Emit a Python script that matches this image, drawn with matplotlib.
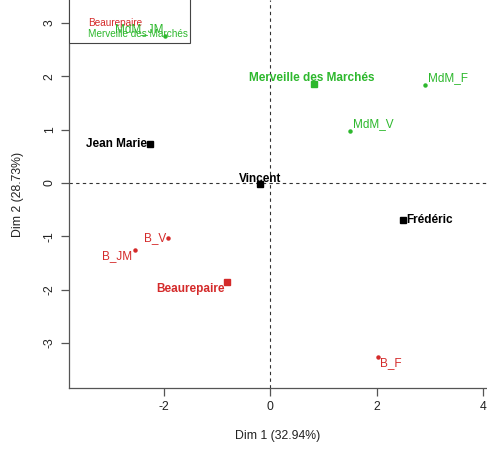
import matplotlib
matplotlib.use('Agg')
from matplotlib import pyplot as plt
from matplotlib.lines import Line2D
from matplotlib.patches import Rectangle

plt.rcParams['font.family'] = ['Liberation Sans', 'DejaVu Sans']
plt.rcParams['axes.unicode_minus'] = False

# product means (coloured squares)
products = ['Beaurepaire', 'Merveille des Marchés']
prod_x = [-0.81, 0.83]
prod_y = [-1.86, 1.86]

# panelists (black squares)
panelists = ['Jean Marie', 'Vincent', 'Frédéric']
pan_x = [-2.25, -0.19, 2.50]
pan_y = [0.73, -0.02, -0.69]

# partial points (product seen by each panelist)
partial = ['B_JM', 'B_V', 'B_F', 'MdM_JM', 'MdM_V', 'MdM_F']
partial_group = [0, 0, 0, 1, 1, 1]
part_x = [-2.54, -1.92, 2.03, -1.97, 1.50, 2.91]
part_y = [-1.26, -1.03, -3.26, 2.76, 0.98, 1.84]

colors = ['#D42A2A', '#2DB82D']

# label placement (pixel offsets, alignment)
prod_lab = [((-2, -7), 'right'), ((-2, 6), 'center')]
pan_lab = [((-3, 0), 'right'), ((0, 5), 'center'), ((3, 0), 'left')]
part_lab = [((-3, -6), 'right'), ((-2, 0), 'right'), ((2, -6), 'left'),
            ((-2, 7), 'right'), ((3, 7), 'left'), ((3, 7), 'left')]

fig = plt.figure(figsize=(4.87, 4.49), dpi=100)
ax = fig.add_axes([0.1417, 0.1359, 0.8583, 0.8641])

ax.axhline(0, color='#333333', lw=0.8, ls=(0, (3, 3)), zorder=1)
ax.axvline(0, color='#333333', lw=0.8, ls=(0, (3, 3)), zorder=1)

for i, name in enumerate(partial):
    c = colors[partial_group[i]]
    ax.plot(part_x[i], part_y[i], 'o', color=c, ms=2.2, zorder=6)
    off, ha = part_lab[i]
    ax.annotate(name, (part_x[i], part_y[i]), xytext=off,
                textcoords='offset pixels', ha=ha, va='center',
                color=c, fontsize=8.5, zorder=7)

for i, name in enumerate(products):
    ax.plot(prod_x[i], prod_y[i], 's', color=colors[i], ms=4.3, zorder=6)
    off, ha = prod_lab[i]
    ax.annotate(name, (prod_x[i], prod_y[i]), xytext=off,
                textcoords='offset pixels', ha=ha, va='center',
                color=colors[i], fontsize=8.5, fontweight='bold', zorder=7)

for i, name in enumerate(panelists):
    ax.plot(pan_x[i], pan_y[i], 's', color='black', ms=4.3, zorder=6)
    off, ha = pan_lab[i]
    ax.annotate(name, (pan_x[i], pan_y[i]), xytext=off,
                textcoords='offset pixels', ha=ha, va='center',
                color='black', fontsize=8.5, fontweight='bold', zorder=7)

ax.set_xlim(-3.775, 4.075)
ax.set_ylim(-3.846, 3.433)
ax.set_xticks([-2, 0, 2, 4])
ax.set_yticks([-3, -2, -1, 0, 1, 2, 3])
ax.spines['top'].set_visible(False)
ax.spines['right'].set_visible(False)
for s in ['left', 'bottom']:
    ax.spines[s].set_color('#555555')
    ax.spines[s].set_linewidth(0.9)
ax.tick_params(colors='#555555', labelcolor='#222222', labelsize=8.8,
               length=6, width=0.9)
for lab in ax.get_yticklabels():
    lab.set_rotation(90)
    lab.set_va('center')
ax.set_xlabel('Dim 1 (32.94%)', fontsize=8.8, color='#222222', labelpad=12)
ax.set_ylabel('Dim 2 (28.73%)', fontsize=8.8, color='#222222', labelpad=14)

# legend box runs off the top of the picture, as in the original
ax.add_patch(Rectangle((0, 0.889), 0.2895, 0.3, transform=ax.transAxes,
                       facecolor='white', edgecolor='#444444', lw=0.8,
                       zorder=4))
handles = [Line2D([], [], linestyle='none') for _ in products]
leg = ax.legend(handles, products, loc='lower left',
                bbox_to_anchor=(0, 0.889), labelcolor=colors,
                fontsize=7.2, handlelength=1.0, handletextpad=0.5,
                borderaxespad=0, frameon=False,
                borderpad=0.4, labelspacing=0.1)
leg.set_zorder(5)

fig.savefig('out.png', dpi=100)
